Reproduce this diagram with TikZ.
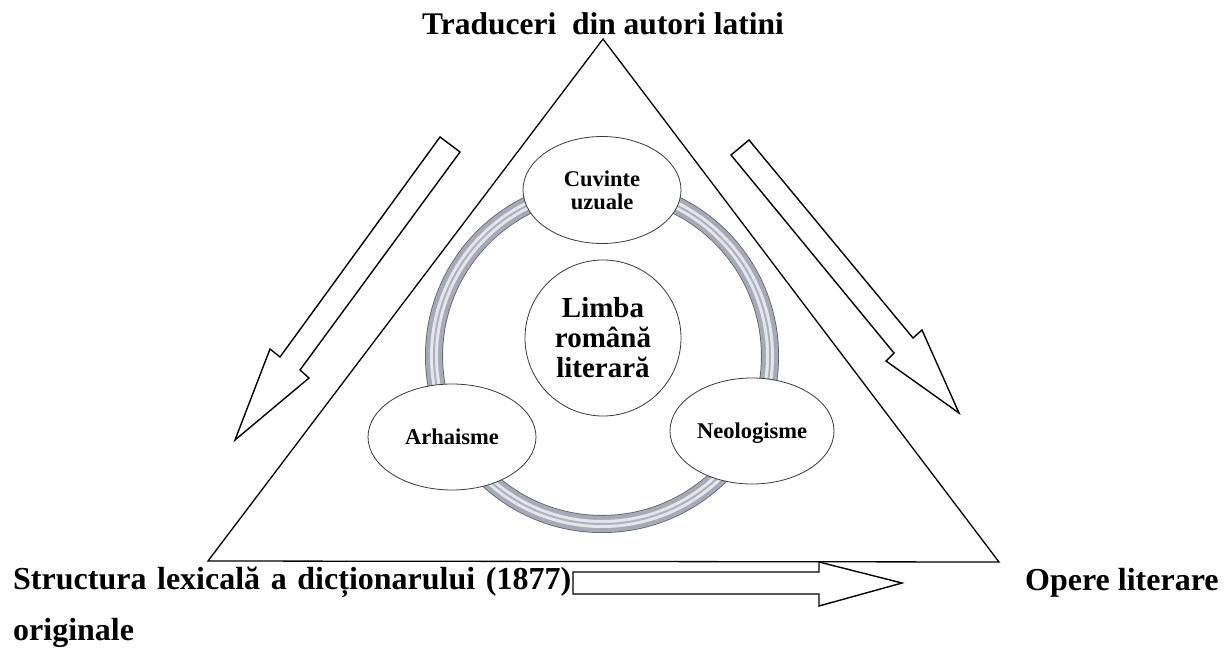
\documentclass[tikz,border=0pt]{standalone}
\usepackage{fontspec}
\setmainfont{Liberation Serif}
\usetikzlibrary{shapes.geometric}
\definecolor{ringedge}{HTML}{5E6068}
\definecolor{ringbody}{HTML}{A6AAB6}
\definecolor{ringlight}{HTML}{E4E6EC}
\definecolor{bubbleedge}{HTML}{3A3A3A}
\tikzset{
  outline/.style={draw=black, line width=1.4pt, line join=miter, fill=white},
  bubble/.style={ellipse, draw=bubbleedge, line width=0.8pt, fill=white, inner sep=0pt, align=center, font=\bfseries\fontsize{22.5}{23}\selectfont},
  hubcircle/.style={circle, draw=bubbleedge, line width=0.8pt, fill=white, inner sep=0pt, minimum size=156pt, align=center, font=\bfseries\fontsize{29}{30}\selectfont},
  label/.style={inner sep=0pt, anchor=base west},
}
\begin{document}
\begin{tikzpicture}[x=1pt,y=-1pt]
\useasboundingbox (0,0) rectangle (1226,650);
% triangle
\coordinate (apex) at (603,39);
\coordinate (tl) at (208,561);
\coordinate (tr) at (999,562);
\draw[line width=1.3pt, line join=miter] (apex) -- (tl) -- (tr) -- cycle;
% left block arrow
\draw[outline] (440,137) -- (460,152) -- (300,370) -- (309,378) -- (235,440) -- (270,349) -- (280,357) -- cycle;
% right block arrow
\draw[outline] (749,140) -- (913,338) -- (922,330) -- (959,413) -- (886,361) -- (894,353) -- (731,155) -- cycle;
% bottom block arrow
\draw[outline] (573,572) -- (819,572) -- (819,562) -- (902,583) -- (819,606) -- (819,594) -- (573,594) -- cycle;
% ring
\coordinate (ringc) at (602,356);
\draw[ringedge, line width=18pt] (ringc) circle[radius=168];
\draw[ringbody, line width=16.4pt] (ringc) circle[radius=168];
\draw[ringlight, line width=8pt] (ringc) circle[radius=168];
\draw[ringbody!90, line width=2pt] (ringc) circle[radius=168];
% bubbles
\node[hubcircle] (hub) at (603,338) {Limba\\română\\literară};
\node[bubble, minimum width=158pt, minimum height=107pt] (uzual) at (602,190) {Cuvinte\\uzuale};
\node[bubble, minimum width=168pt, minimum height=106pt, text height=15pt, text depth=0pt] (arh) at (452,437) {Arhaisme};
\node[bubble, minimum width=164pt, minimum height=106pt, text height=15pt, text depth=0pt] (neo) at (752,431) {Neologisme};
% labels
\node[label, font=\bfseries\fontsize{31.5}{34}\selectfont] (title) at (422,35) {Traduceri\ \ din autori latini};
\node[label, font=\bfseries\fontsize{32}{36}\selectfont] (struct) at (13,589) {\hbox to 558pt{Structura\hfill lexicală\hfill a\hfill dicționarului\hfill (1877)}};
\node[label, font=\bfseries\fontsize{32}{36}\selectfont] (opere) at (1025,590) {Opere literare};
\node[label, font=\bfseries\fontsize{32}{36}\selectfont] (orig) at (13,640) {originale};
\end{tikzpicture}
\end{document}
